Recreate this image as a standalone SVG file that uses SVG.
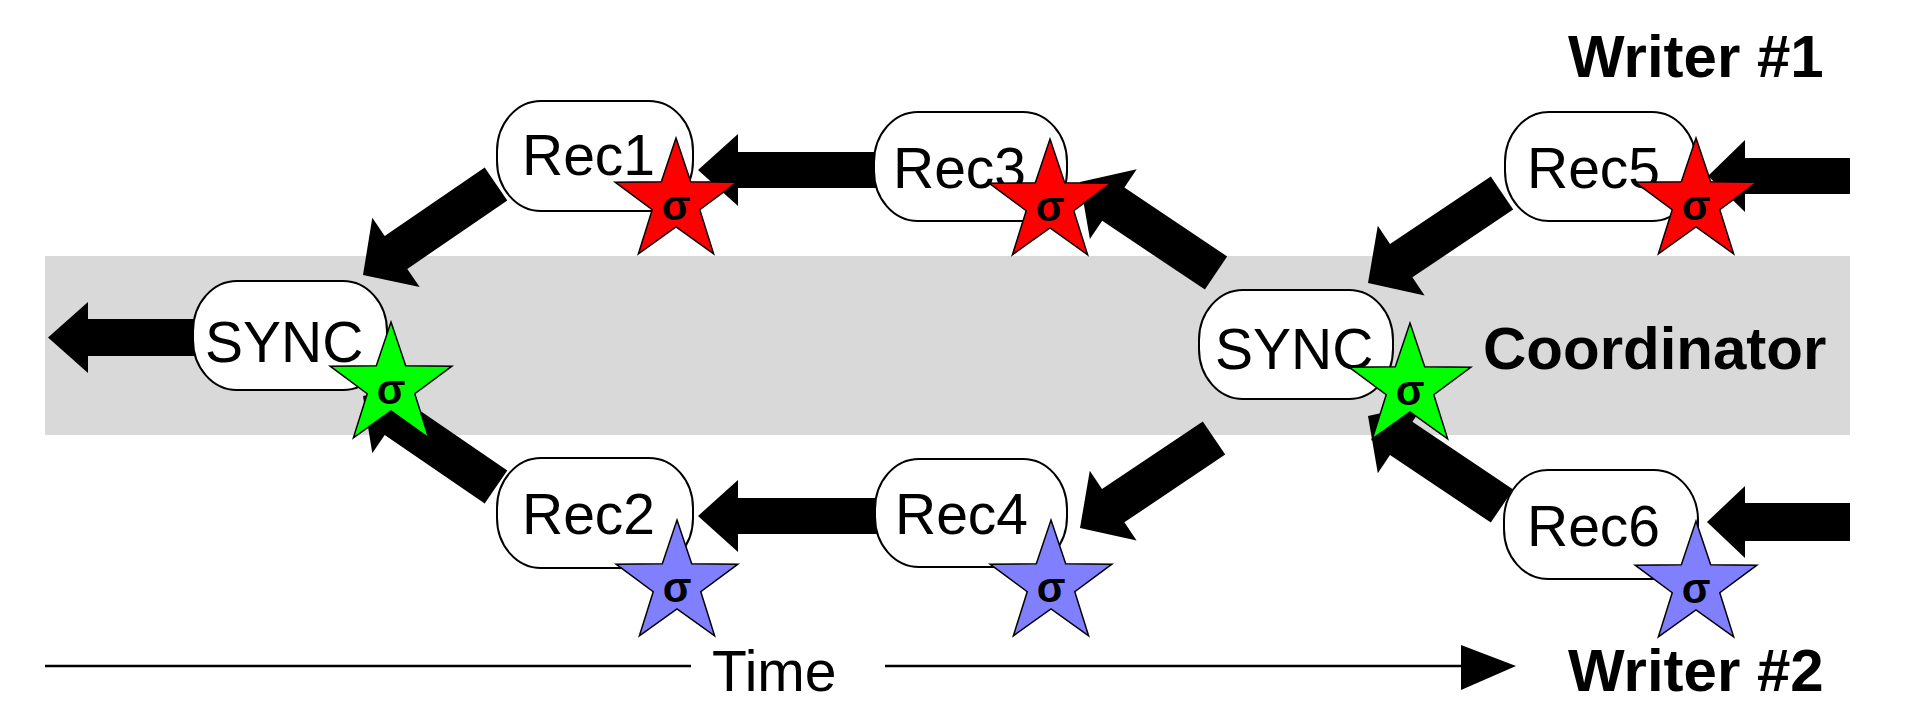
<svg xmlns="http://www.w3.org/2000/svg" xmlns:xlink="http://www.w3.org/1999/xlink" width="1920" height="716" viewBox="0 0 1920 716">
<style>
.box{fill:#ffffff;stroke:#000000;stroke-width:2}
.lbl{font-family:"Liberation Sans",Arial,sans-serif;font-size:57px;fill:#000}
.big{font-family:"Liberation Sans",Arial,sans-serif;font-size:60px;font-weight:bold;fill:#000}
.sig{font-family:"Liberation Sans",Arial,sans-serif;font-size:42px;font-weight:bold;fill:#000;text-anchor:middle}
.arrow{fill:#000}
.red{fill:#ff0000;stroke:#000;stroke-width:1.5}
.green{fill:#00ff00;stroke:#000;stroke-width:1.5}
.blue{fill:#8080ff;stroke:#000;stroke-width:1.5}
</style>
<defs>
<path id="star" d="M0,-64 L14.69,-20.23 L60.87,-19.78 L23.78,7.73 L37.62,51.78 L0,25 L-37.62,51.78 L-23.78,7.73 L-60.87,-19.78 L-14.69,-20.23 Z"/>
</defs>
<rect id="coordinator-band" x="45" y="256" width="1805" height="179" fill="#d9d9d9"/>
<g id="connectors">
<polygon class="arrow" points="200,319 88,319 88,302 48,337.5 88,373 88,356 200,356"/>
<polygon class="arrow" points="484.7,167.5 384.7,235.9 372.3,217.8 363,275 419.7,287.1 407.3,268.9 507.3,200.5"/>
<polygon class="arrow" points="484.7,503.5 384.7,435.1 372.3,453.2 363,396 419.7,383.9 407.3,402.1 507.3,470.5"/>
<polygon class="arrow" points="880,152 738,152 738,134 698,170 738,206 738,188 880,188"/>
<polygon class="arrow" points="880,498 738,498 738,480 698,516 738,552 738,534 880,534"/>
<polygon class="arrow" points="1227.1,256.4 1124.4,187.6 1136.7,169.3 1080,182 1089.9,239.1 1102.2,220.8 1204.9,289.6"/>
<polygon class="arrow" points="1202.8,421.4 1102.0,489.1 1089.8,470.8 1080,528 1136.6,540.6 1124.4,522.3 1225.2,454.6"/>
<polygon class="arrow" points="1490.8,176.4 1390.0,244.1 1377.8,225.8 1368,283 1424.6,295.6 1412.4,277.3 1513.2,209.6"/>
<polygon class="arrow" points="1490.8,522.6 1390.0,454.9 1377.8,473.2 1368,416 1424.6,403.4 1412.4,421.7 1513.2,489.4"/>
<polygon class="arrow" points="1850,158 1745,158 1745,140 1708,176 1745,212 1745,194 1850,194"/>
<polygon class="arrow" points="1850,503 1745,503 1745,486 1707,522 1745,558 1745,541 1850,541"/>
</g>
<g id="sync1">
<rect class="box" x="193" y="281" width="194" height="109" rx="44" ry="50"/>
<text class="lbl" x="205" y="362">SYNC</text>
<use xlink:href="#star" class="green" x="391" y="386"/>
<text class="sig" x="391" y="404">σ</text>
</g>
<g id="rec1">
<rect class="box" x="497" y="101" width="196" height="110" rx="44" ry="50"/>
<text class="lbl" x="522" y="175">Rec1</text>
<use xlink:href="#star" class="red" x="676" y="202"/>
<text class="sig" x="676" y="220">σ</text>
</g>
<g id="rec2">
<rect class="box" x="497" y="458" width="196" height="110" rx="44" ry="50"/>
<text class="lbl" x="522" y="534">Rec2</text>
<use xlink:href="#star" class="blue" x="677" y="584"/>
<text class="sig" x="677" y="602">σ</text>
</g>
<g id="rec3">
<rect class="box" x="874" y="112" width="193" height="109" rx="44" ry="50"/>
<text class="lbl" x="893" y="188">Rec3</text>
<use xlink:href="#star" class="red" x="1050" y="203"/>
<text class="sig" x="1050" y="221">σ</text>
</g>
<g id="rec4">
<rect class="box" x="875" y="459" width="192" height="108" rx="44" ry="50"/>
<text class="lbl" x="895" y="534">Rec4</text>
<use xlink:href="#star" class="blue" x="1051" y="584"/>
<text class="sig" x="1051" y="602">σ</text>
</g>
<g id="sync2">
<rect class="box" x="1199" y="290" width="194" height="109" rx="44" ry="50"/>
<text class="lbl" x="1215" y="369">SYNC</text>
<use xlink:href="#star" class="green" x="1410" y="387"/>
<text class="sig" x="1410" y="405">σ</text>
</g>
<g id="rec5">
<rect class="box" x="1505" y="112" width="191" height="109" rx="44" ry="50"/>
<text class="lbl" x="1527" y="188">Rec5</text>
<use xlink:href="#star" class="red" x="1696" y="202"/>
<text class="sig" x="1696" y="220">σ</text>
</g>
<g id="rec6">
<rect class="box" x="1504" y="470" width="194" height="109" rx="44" ry="50"/>
<text class="lbl" x="1527" y="546">Rec6</text>
<use xlink:href="#star" class="blue" x="1696" y="585"/>
<text class="sig" x="1696" y="603">σ</text>
</g>
<g id="labels">
<text class="big" x="1568" y="77">Writer #1</text>
<text class="big" x="1483" y="369" font-size="59">Coordinator</text>
<text class="big" x="1568" y="691">Writer #2</text>
</g>
<g id="time-axis">
<line x1="45" y1="666" x2="691" y2="666" stroke="#000" stroke-width="2.5"/>
<line x1="885" y1="666" x2="1462" y2="666" stroke="#000" stroke-width="2.5"/>
<polygon points="1461,645 1516,666 1461,690" fill="#000"/>
<text class="lbl" x="712" y="691" font-size="66">Time</text>
</g>
</svg>
